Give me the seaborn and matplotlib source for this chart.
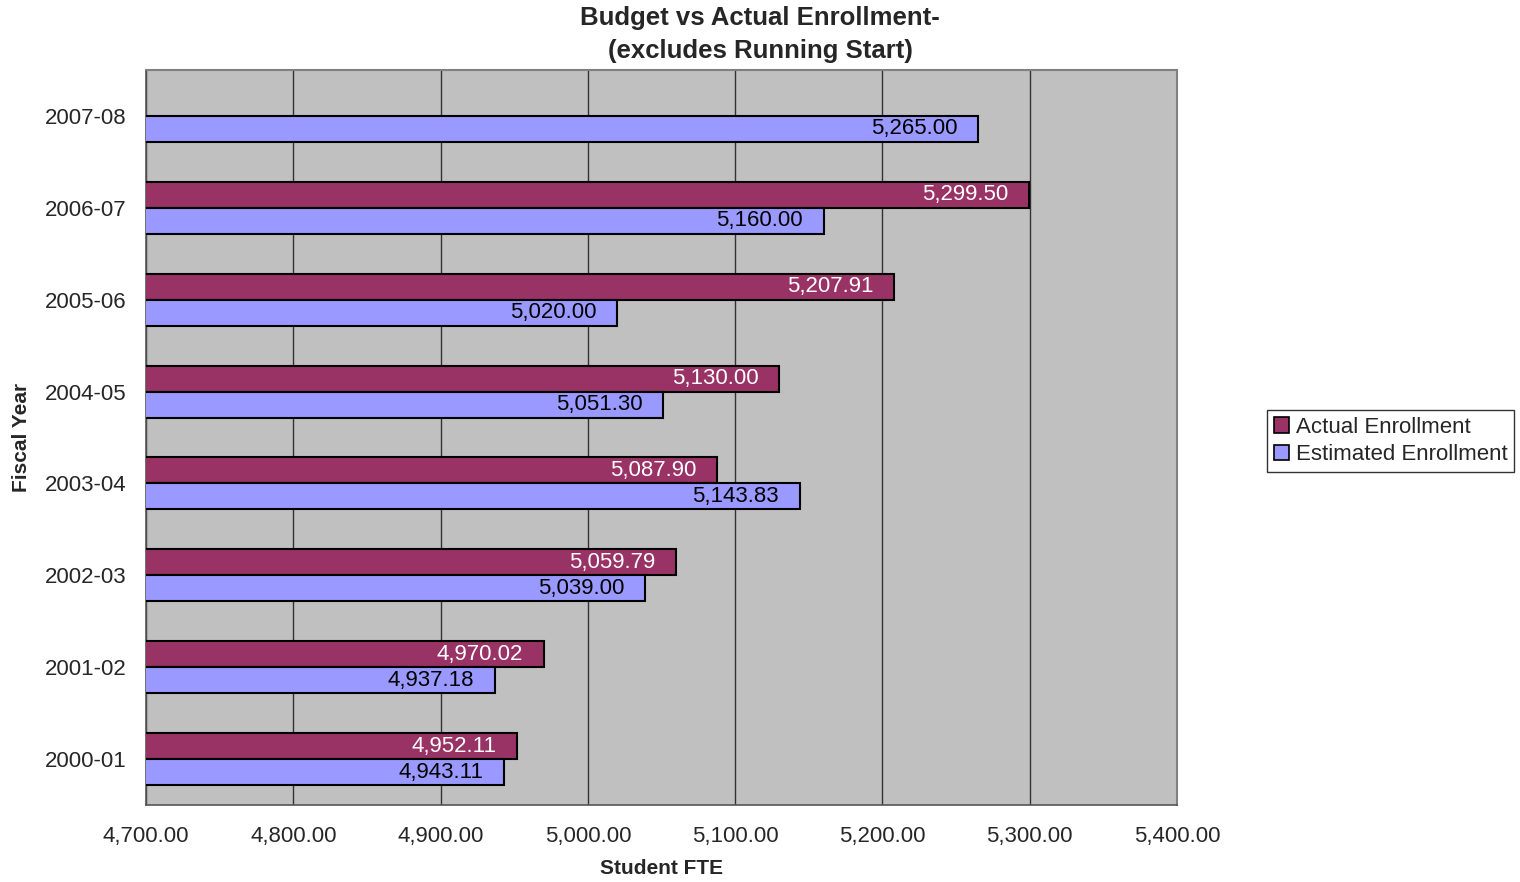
import matplotlib
matplotlib.use("Agg")
import matplotlib.pyplot as plt
import seaborn as sns
import pandas as pd
import numpy as np
from matplotlib.ticker import FixedLocator, FuncFormatter

years = ["2007-08", "2006-07", "2005-06", "2004-05", "2003-04", "2002-03", "2001-02", "2000-01"]
actual = [np.nan, 5299.50, 5207.91, 5130.00, 5087.90, 5059.79, 4970.02, 4952.11]
estimated = [5265.00, 5160.00, 5020.00, 5051.30, 5143.83, 5039.00, 4937.18, 4943.11]
series = ["Actual Enrollment", "Estimated Enrollment"]
colors = ["#993366", "#9999FF"]
label_colors = ["white", "black"]
xticks = [4700, 4800, 4900, 5000, 5100, 5200, 5300, 5400]

df = pd.DataFrame({
    "Fiscal Year": years * 2,
    "Student FTE": actual + estimated,
    "Series": [series[0]] * len(years) + [series[1]] * len(years),
})

sns.set_style("white")
plt.rcParams["font.family"] = ["Liberation Sans", "DejaVu Sans"]

fig = plt.figure(figsize=(15.2, 8.82), dpi=100)
ax = fig.add_axes([146 / 1520, 1 - 805 / 882, (1177 - 146) / 1520, (805 - 70) / 882])
ax.set_facecolor("#C0C0C0")

sns.barplot(data=df, y="Fiscal Year", x="Student FTE", hue="Series",
            order=years, hue_order=series, palette=colors, orient="h",
            saturation=1, width=0.566, edgecolor="black", linewidth=1.5, ax=ax, zorder=3)

ax.set_xlim(4700, 5400)
ax.set_ylim(len(years) - 0.5, -0.5)
ax.xaxis.set_major_locator(FixedLocator(xticks))
ax.xaxis.set_major_formatter(FuncFormatter(lambda v, p: f"{v:,.2f}"))
ax.grid(axis="x", color="#333333", linewidth=1.0, zorder=0)
ax.set_axisbelow(True)

# tick styling
ax.tick_params(axis="x", which="major", direction="out", length=6, width=1,
               color="#555555", labelsize=16, pad=9)
ax.tick_params(axis="y", which="major", length=0, labelsize=16, pad=14)
ax.yaxis.set_minor_locator(FixedLocator(np.arange(-0.5, len(years), 1.0)))
ax.tick_params(axis="y", which="minor", direction="out", length=6, width=1, color="#555555")

for s in ["top", "right"]:
    ax.spines[s].set_color("#808080")
    ax.spines[s].set_linewidth(1.5)
for s in ["left", "bottom"]:
    ax.spines[s].set_color("#555555")
    ax.spines[s].set_linewidth(1.2)

# value labels
for cont, lc in zip(ax.containers, label_colors):
    labels = ["" if np.isnan(v) else f"{v:,.2f}" for v in cont.datavalues]
    texts = ax.bar_label(cont, labels=labels, label_type="edge", padding=-15,
                         color=lc, fontsize=16, zorder=5)
    for t in texts:
        t.set_horizontalalignment("right")

ax.set_xlabel("Student FTE", fontsize=15, fontweight="bold", labelpad=9)
ax.set_ylabel("Fiscal Year", fontsize=15, fontweight="bold", labelpad=10)

fig.suptitle("Budget vs Actual Enrollment-\n(excludes Running Start)",
             fontsize=18.5, fontweight="bold", x=0.5, y=0.993, va="top", linespacing=1.45)

leg = ax.legend(loc="center left", bbox_to_anchor=(1267 / 1520, 1 - 441 / 882),
                bbox_transform=fig.transFigure, fontsize=16, frameon=True,
                fancybox=False, edgecolor="black", handlelength=0.7, handleheight=0.7,
                handletextpad=0.3, borderpad=0.3, labelspacing=0.3, borderaxespad=0)
leg.get_frame().set_linewidth(1.0)
for h in leg.legend_handles:
    h.set_edgecolor("black")
    h.set_linewidth(1.2)

fig.savefig("out.png", dpi=100)
